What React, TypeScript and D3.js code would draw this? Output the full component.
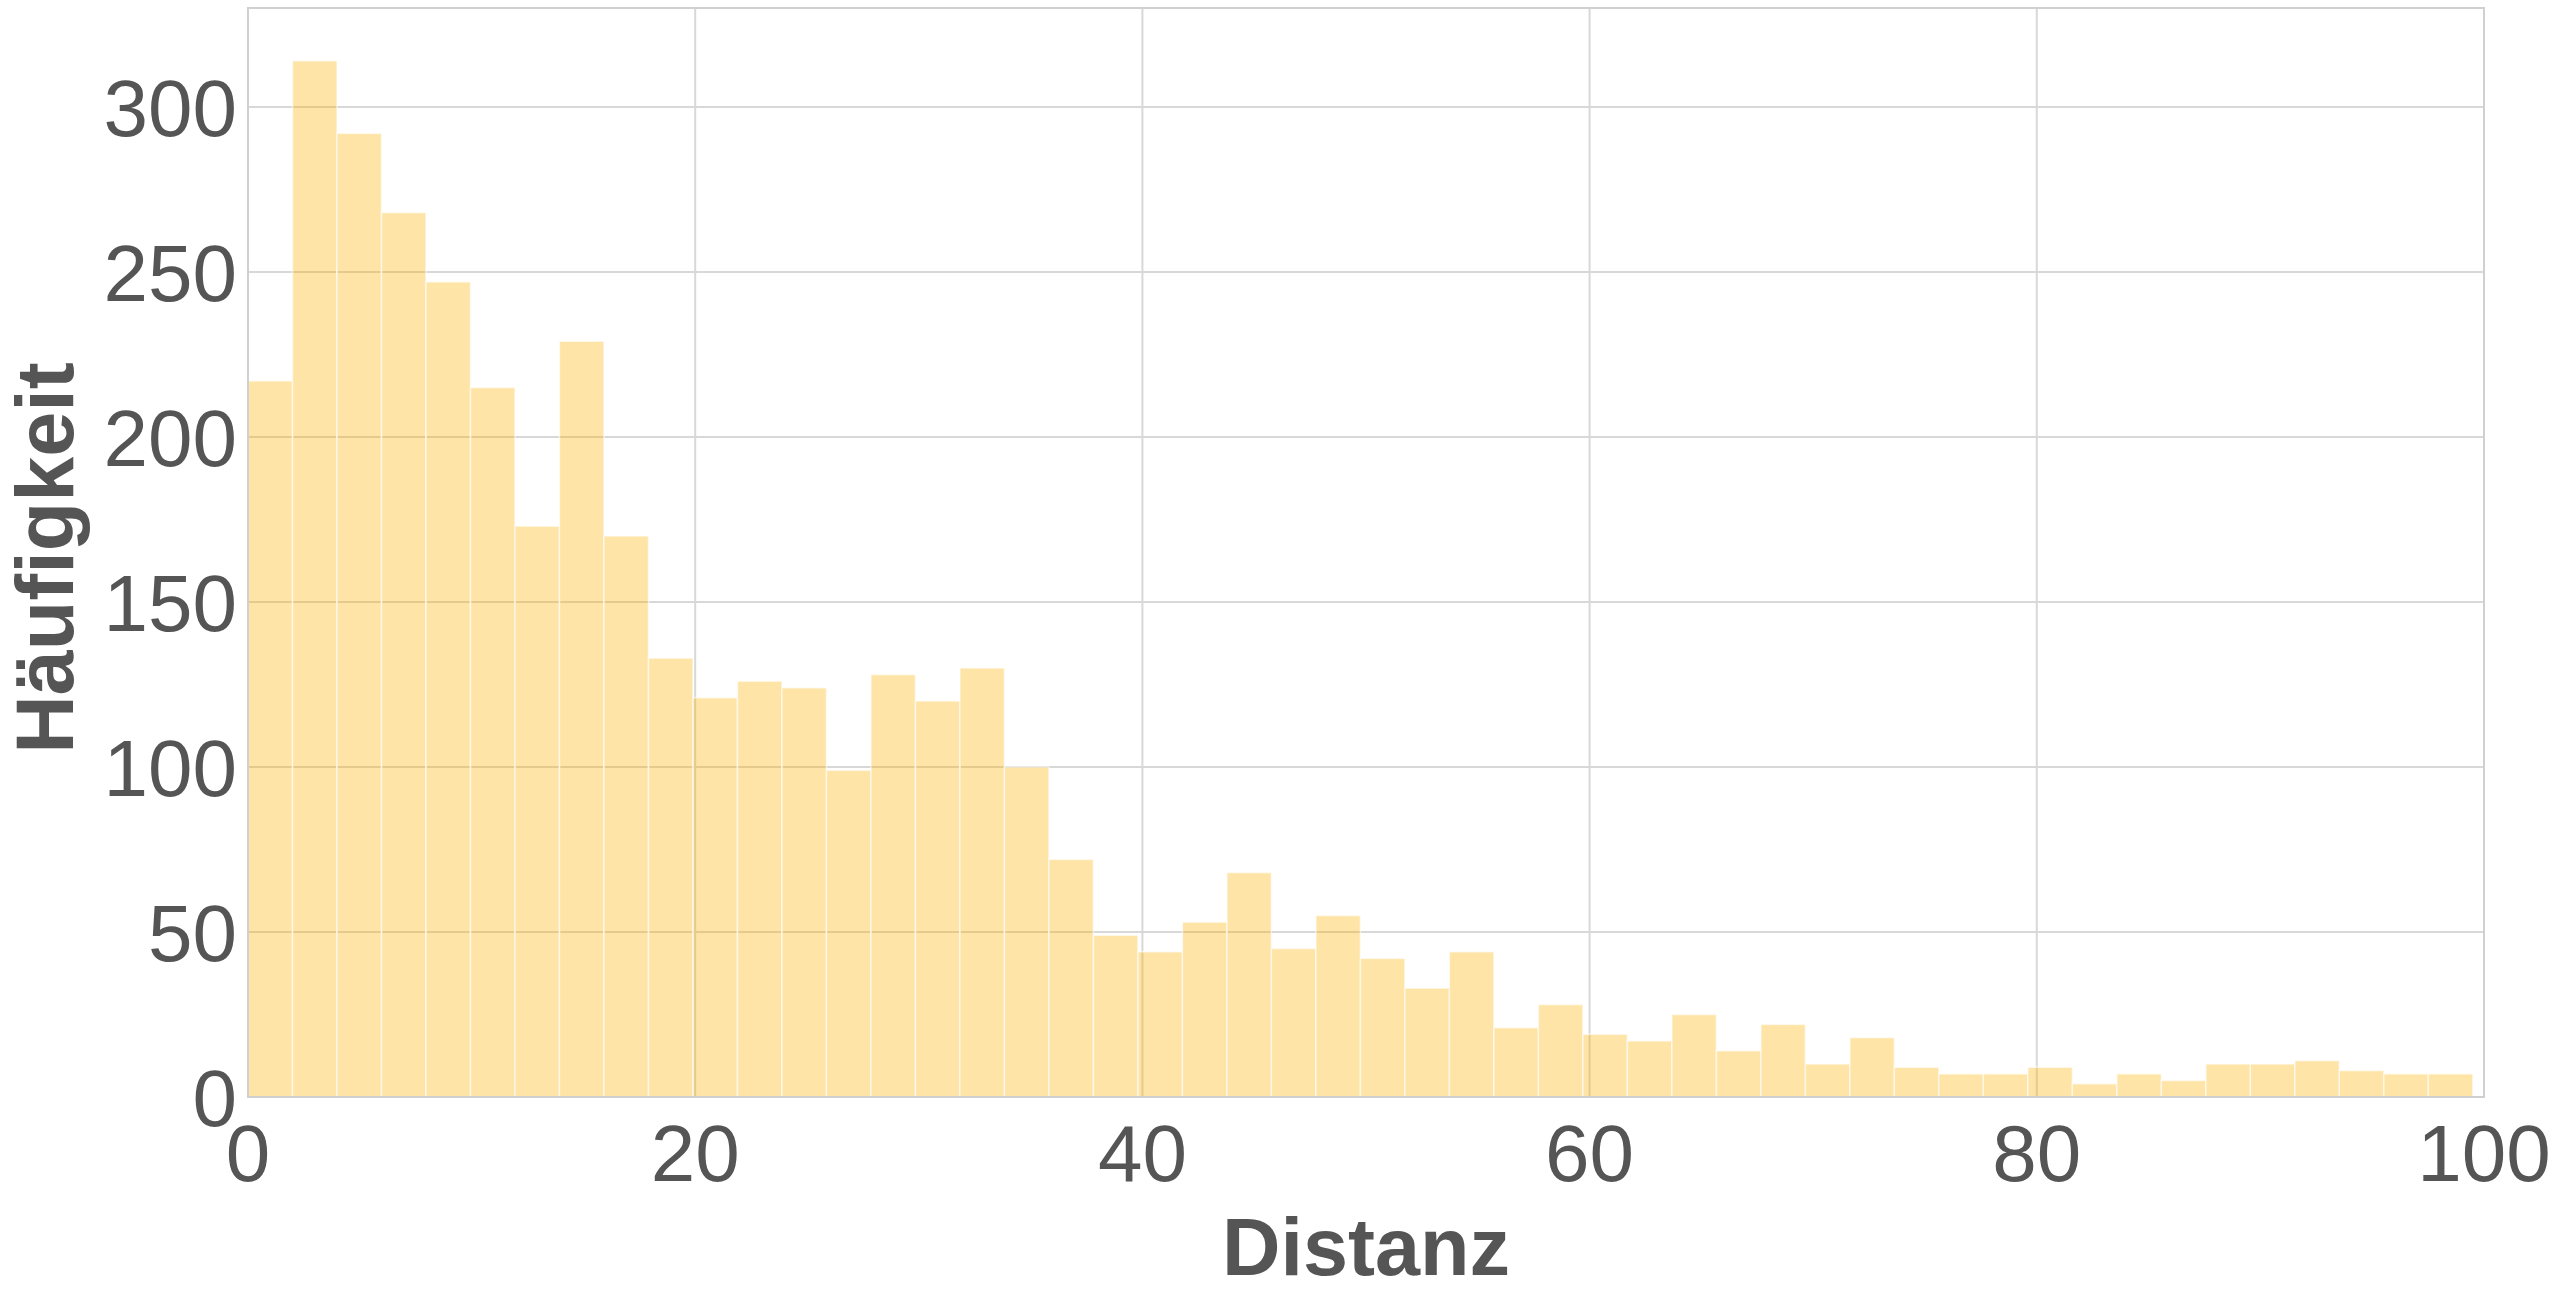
import React, { useRef, useEffect } from 'react';
import * as d3 from 'd3';

// histogram counts, 50 bins from 0 to maxDistance
const counts = [
  217, 314, 292, 268, 247, 215, 173, 229, 170, 133,
  121, 126, 124, 99, 128, 120, 130, 100, 72, 49,
  44, 53, 68, 45, 55, 42, 33, 44, 21, 28,
  19, 17, 25, 14, 22, 10, 18, 9, 7, 7,
  9, 4, 7, 5, 10, 10, 11, 8, 7, 7,
];
const maxDistance = 99.5;
const xTicks = [0, 20, 40, 60, 80, 100];
const yTicks = [0, 50, 100, 150, 200, 250, 300];
const xLabel = 'Distanz';
const yLabel = 'Häufigkeit';

function Chart() {
  const chartRef = useRef(null);

  useEffect(() => {
    document.body.style.margin = '0';
    const svg = d3.select(chartRef.current);
    svg.selectAll('*').remove();

    const margin = { top: 8, right: 76, bottom: 203, left: 248 };
    const W = 2560;
    const H = 1300;
    const textColor = '#555555';
    const font = '"Liberation Sans", Arial, sans-serif';

    const xScale = d3
      .scaleLinear()
      .domain([0, 100])
      .range([margin.left, W - margin.right]);

    const yScale = d3
      .scaleLinear()
      .domain([0, 330])
      .range([H - margin.bottom, margin.top]);

    const binWidth = maxDistance / counts.length;
    const bins = counts.map((c, i) => ({ x0: i * binWidth, x1: (i + 1) * binWidth, count: c }));

    // grid lines
    const grid = svg.append('g');
    grid
      .selectAll('line.h')
      .data(yTicks)
      .enter()
      .append('line')
      .attr('x1', xScale(0))
      .attr('x2', xScale(100))
      .attr('y1', (d) => yScale(d))
      .attr('y2', (d) => yScale(d))
      .attr('stroke', '#d8d8d8')
      .attr('stroke-width', 2);
    grid
      .selectAll('line.v')
      .data(xTicks)
      .enter()
      .append('line')
      .attr('x1', (d) => xScale(d))
      .attr('x2', (d) => xScale(d))
      .attr('y1', yScale(0))
      .attr('y2', yScale(330))
      .attr('stroke', '#d8d8d8')
      .attr('stroke-width', 2);

    // bars
    svg
      .append('g')
      .selectAll('rect')
      .data(bins)
      .enter()
      .append('rect')
      .attr('x', (d) => xScale(d.x0))
      .attr('y', (d) => yScale(d.count))
      .attr('width', (d) => xScale(d.x1) - xScale(d.x0))
      .attr('height', (d) => yScale(0) - yScale(d.count))
      .attr('fill', 'rgba(252, 178, 4, 0.35)')
      .attr('stroke', 'rgba(255,255,255,0.6)')
      .attr('stroke-width', 1.5);

    // frame
    svg
      .append('rect')
      .attr('x', xScale(0))
      .attr('y', yScale(330))
      .attr('width', xScale(100) - xScale(0))
      .attr('height', yScale(0) - yScale(330))
      .attr('fill', 'none')
      .attr('stroke', '#d0d0d0')
      .attr('stroke-width', 2);

    // x tick labels
    svg
      .append('g')
      .selectAll('text')
      .data(xTicks)
      .enter()
      .append('text')
      .attr('x', (d) => xScale(d))
      .attr('y', 1181)
      .attr('text-anchor', 'middle')
      .attr('font-family', font)
      .attr('font-size', 80)
      .attr('fill', textColor)
      .text((d) => d);

    // y tick labels
    svg
      .append('g')
      .selectAll('text')
      .data(yTicks)
      .enter()
      .append('text')
      .attr('x', 237)
      .attr('y', (d) => yScale(d) + 29)
      .attr('text-anchor', 'end')
      .attr('font-family', font)
      .attr('font-size', 80)
      .attr('fill', textColor)
      .text((d) => d);

    // axis titles
    svg
      .append('text')
      .attr('x', (xScale(0) + xScale(100)) / 2)
      .attr('y', 1275)
      .attr('text-anchor', 'middle')
      .attr('font-family', font)
      .attr('font-size', 81)
      .attr('font-weight', 'bold')
      .attr('fill', textColor)
      .text(xLabel);

    svg
      .append('text')
      .attr('transform', `translate(73,558) rotate(-90)`)
      .attr('text-anchor', 'middle')
      .attr('font-family', font)
      .attr('font-size', 81)
      .attr('font-weight', 'bold')
      .attr('fill', textColor)
      .text(yLabel);
  }, []);

  return <svg ref={chartRef} width={2560} height={1300} style={{ display: 'block', background: '#fff' }}></svg>;
}

export default function App() {
  return <Chart />;
}
